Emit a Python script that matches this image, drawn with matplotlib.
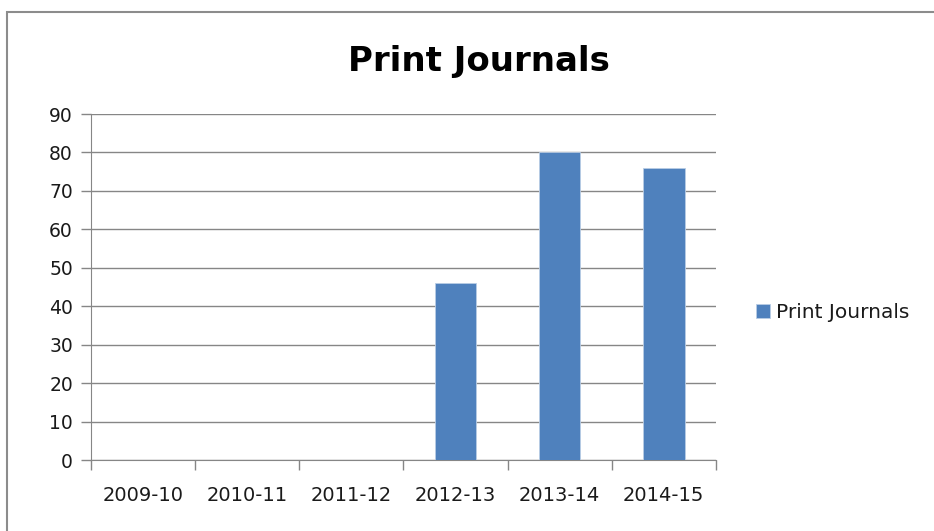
# Print Journals bar chart (Excel style)
import matplotlib.pyplot as plt
import numpy as np
from matplotlib.patches import Rectangle

# Data
years = ["2009-10", "2010-11", "2011-12", "2012-13", "2013-14", "2014-15"]
journals = [0, 0, 0, 46, 80, 76]

plt.rcParams['font.family'] = ['DejaVu Sans']

fig = plt.figure(figsize=(9.34, 5.31), dpi=100)
ax = fig.add_axes([0.0974, 0.1337, 0.669, 0.6516])

# Outer chart border
fig.patches.append(Rectangle((0.0075, -0.05), 1.1, 1.027, transform=fig.transFigure,
                             fill=False, edgecolor='#8c8c8c', linewidth=1.5))

x = np.arange(len(years))
ax.bar(x, journals, width=0.4, color='#4f81bd', edgecolor='#b9cde5', linewidth=0.6,
       label='Print Journals', zorder=3)

# Axes config
ax.set_xlim(-0.5, len(years) - 0.5)
ax.set_ylim(0, 90)
ax.set_yticks(range(0, 91, 10))
ax.yaxis.grid(True, color='#868686', linewidth=1, zorder=0)
ax.set_xticks(x)
ax.set_xticklabels(years)
ax.set_xticks(np.arange(-0.5, len(years)), minor=True)
ax.tick_params(axis='x', which='major', length=0, pad=19, labelsize=14, labelcolor='#1a1a1a')
ax.tick_params(axis='x', which='minor', length=7, color='#868686', width=1)
ax.tick_params(axis='y', length=7, color='#868686', width=1, labelsize=13.5, pad=6,
               labelcolor='#1a1a1a')
for side in ['top', 'right']:
    ax.spines[side].set_visible(False)
for side in ['left', 'bottom']:
    ax.spines[side].set_color('#868686')

fig.text(0.513, 0.885, "Print Journals", ha='center', va='center', fontsize=24.5, fontweight='bold')

ax.legend(loc='center left', bbox_to_anchor=(1.035, 0.425), frameon=False, fontsize=14.5,
          handlelength=0.7, handleheight=0.7, handletextpad=0.3, labelcolor='#1a1a1a')

plt.savefig('out.png')
